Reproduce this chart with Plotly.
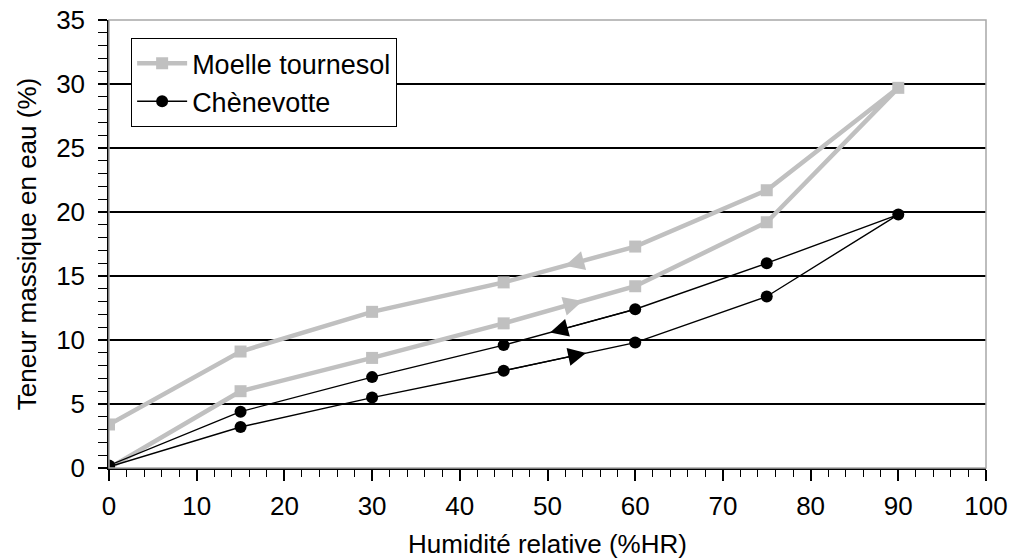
import numpy as np
import plotly.graph_objects as go

# Relative humidity steps (%HR)
hr_steps = [0, 15, 30, 45, 60, 75, 90]

# Water content (% mass) - sunflower pith
moelle_adsorption = [0.0, 6.0, 8.6, 11.3, 14.2, 19.2, 29.7]
moelle_desorption = [3.4, 9.1, 12.2, 14.5, 17.3, 21.7, 29.7]

# Water content (% mass) - hemp shiv
chenevotte_adsorption = [0.1, 3.2, 5.5, 7.6, 9.8, 13.4, 19.8]
chenevotte_desorption = [0.2, 4.4, 7.1, 9.6, 12.4, 16.0, 19.8]

x_ticks = list(range(0, 101, 10))
y_ticks = list(range(0, 36, 5))

GRAY = "#c0c0c0"
FONT = "Arial, Liberation Sans, sans-serif"
FS = 26


def loop(ads, des):
    """Adsorption branch going up, then desorption branch coming back."""
    xs = hr_steps + hr_steps[::-1][1:]
    ys = ads + des[::-1][1:]
    return xs, ys


fig = go.Figure()

mx, my = loop(moelle_adsorption, moelle_desorption)
fig.add_trace(go.Scatter(
    x=mx, y=my, mode="lines+markers", name="Moelle tournesol",
    line=dict(color=GRAY, width=4.5),
    marker=dict(symbol="square", size=12, color=GRAY),
))

cx, cy = loop(chenevotte_adsorption, chenevotte_desorption)
fig.add_trace(go.Scatter(
    x=cx, y=cy, mode="lines+markers", name="Chènevotte",
    line=dict(color="black", width=1.4),
    marker=dict(symbol="circle", size=12, color="black"),
))


# Direction arrowheads on the 45 -> 60 %HR segment of each branch
def arrow(values, x_at, forward, color, size):
    y_at = float(np.interp(x_at, hr_steps, values))
    x_prev = 45 if forward else 60
    y_prev = float(np.interp(x_prev, hr_steps, values))
    fig.add_annotation(
        x=x_at, y=y_at, ax=x_prev, ay=y_prev, xref="x", yref="y",
        axref="x", ayref="y", text="", showarrow=True,
        arrowhead=2, arrowsize=size, arrowwidth=1.2, arrowcolor=color,
        standoff=0, startstandoff=0,
    )


arrow(moelle_adsorption, 54.0, True, GRAY, 3.2)
arrow(moelle_desorption, 52.0, False, GRAY, 3.2)
arrow(chenevotte_adsorption, 54.4, True, "black", 3.0)
arrow(chenevotte_desorption, 50.3, False, "black", 3.0)

# Gray frame on the top and right of the plotting area
fig.add_shape(type="rect", xref="x domain", yref="y domain",
              x0=0, x1=1, y0=0, y1=1, layer="above",
              line=dict(color="#a8a8a8", width=1.5))

fig.update_layout(
    width=1013, height=559,
    margin=dict(l=109, r=27, t=20, b=91),
    paper_bgcolor="white", plot_bgcolor="white",
    font=dict(family=FONT, size=FS, color="black"),
    showlegend=True,
    legend=dict(
        x=0.025, y=0.96, xanchor="left", yanchor="top",
        bgcolor="white", bordercolor="black", borderwidth=1.2,
        font=dict(family=FONT, size=27, color="black"),
        itemwidth=50, traceorder="normal",
    ),
    xaxis=dict(
        range=[0, 100], tickvals=x_ticks, ticks="outside", ticklen=11,
        tickwidth=1.5, tickcolor="black", showline=True, linecolor="black",
        linewidth=1.5, showgrid=False, zeroline=False,
        tickfont=dict(size=FS), ticklabelstandoff=3,
        minor=dict(dtick=2, ticks="outside", ticklen=7, tickwidth=1.3,
                   tickcolor="black", showgrid=False),
        title=dict(text="Humidité relative (%HR)", font=dict(size=FS),
                   standoff=18),
        automargin=False,
    ),
    yaxis=dict(
        range=[0, 35], tickvals=y_ticks, ticks="outside", ticklen=9,
        tickwidth=1.5, tickcolor="black", showline=True, linecolor="black",
        linewidth=1.5, showgrid=True, gridcolor="black", gridwidth=1.5,
        zeroline=False, tickfont=dict(size=FS), ticklabelstandoff=8,
        minor=dict(dtick=1, ticks="outside", ticklen=9, tickwidth=1.3,
                   tickcolor="black", showgrid=False),
        title=dict(text="Teneur massique en eau (%)", font=dict(size=FS),
                   standoff=12),
        automargin=False,
    ),
)

fig.write_html("out.html")
